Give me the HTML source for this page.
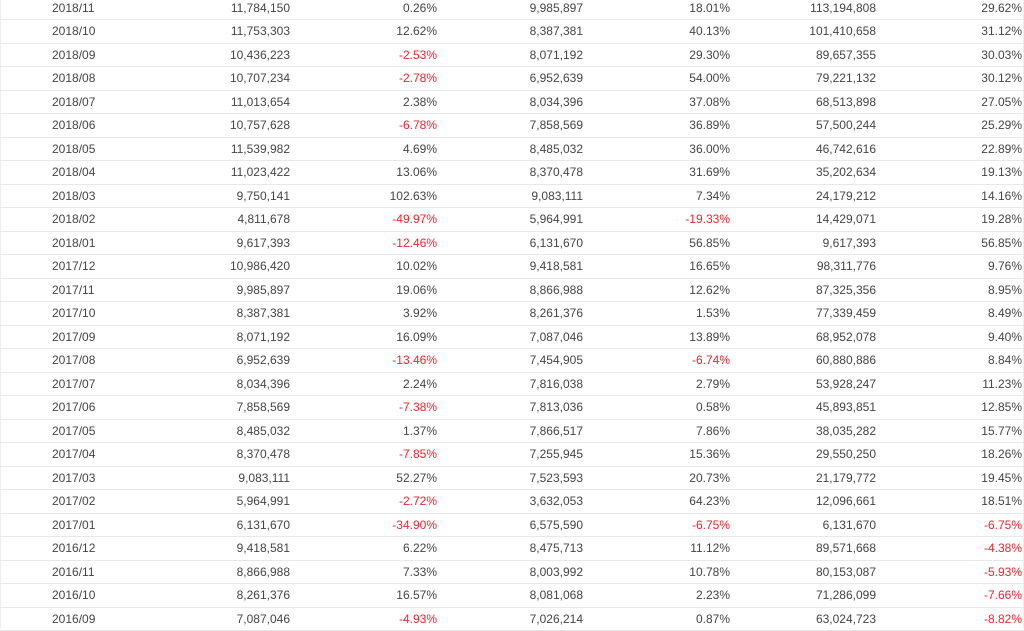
<!DOCTYPE html>
<html><head><meta charset="utf-8"><style>
body{margin:0;width:1024px;height:628px;overflow:hidden;background:#fff;font-family:"Liberation Sans",Arial,sans-serif;font-size:12px;color:#444;position:relative}
.r{position:absolute;left:0;width:1024px;height:23.5px;border-bottom:1px solid #e8e8e8;box-sizing:border-box}
.c{position:absolute;top:0;line-height:22.5px;text-align:right;white-space:nowrap}
.n{color:#f5222d}
.vl{position:absolute;top:0;width:1px;height:628px;background:#eeeeee}
</style></head><body>
<div class="vl" style="left:0"></div>
<div class="vl" style="left:1023px"></div>
<div id="t"></div>
<script>
var d=`2018/11|11,784,150|0.26%|9,985,897|18.01%|113,194,808|29.62%
2018/10|11,753,303|12.62%|8,387,381|40.13%|101,410,658|31.12%
2018/09|10,436,223|-2.53%|8,071,192|29.30%|89,657,355|30.03%
2018/08|10,707,234|-2.78%|6,952,639|54.00%|79,221,132|30.12%
2018/07|11,013,654|2.38%|8,034,396|37.08%|68,513,898|27.05%
2018/06|10,757,628|-6.78%|7,858,569|36.89%|57,500,244|25.29%
2018/05|11,539,982|4.69%|8,485,032|36.00%|46,742,616|22.89%
2018/04|11,023,422|13.06%|8,370,478|31.69%|35,202,634|19.13%
2018/03|9,750,141|102.63%|9,083,111|7.34%|24,179,212|14.16%
2018/02|4,811,678|-49.97%|5,964,991|-19.33%|14,429,071|19.28%
2018/01|9,617,393|-12.46%|6,131,670|56.85%|9,617,393|56.85%
2017/12|10,986,420|10.02%|9,418,581|16.65%|98,311,776|9.76%
2017/11|9,985,897|19.06%|8,866,988|12.62%|87,325,356|8.95%
2017/10|8,387,381|3.92%|8,261,376|1.53%|77,339,459|8.49%
2017/09|8,071,192|16.09%|7,087,046|13.89%|68,952,078|9.40%
2017/08|6,952,639|-13.46%|7,454,905|-6.74%|60,880,886|8.84%
2017/07|8,034,396|2.24%|7,816,038|2.79%|53,928,247|11.23%
2017/06|7,858,569|-7.38%|7,813,036|0.58%|45,893,851|12.85%
2017/05|8,485,032|1.37%|7,866,517|7.86%|38,035,282|15.77%
2017/04|8,370,478|-7.85%|7,255,945|15.36%|29,550,250|18.26%
2017/03|9,083,111|52.27%|7,523,593|20.73%|21,179,772|19.45%
2017/02|5,964,991|-2.72%|3,632,053|64.23%|12,096,661|18.51%
2017/01|6,131,670|-34.90%|6,575,590|-6.75%|6,131,670|-6.75%
2016/12|9,418,581|6.22%|8,475,713|11.12%|89,571,668|-4.38%
2016/11|8,866,988|7.33%|8,003,992|10.78%|80,153,087|-5.93%
2016/10|8,261,376|16.57%|8,081,068|2.23%|71,286,099|-7.66%
2016/09|7,087,046|-4.93%|7,026,214|0.87%|63,024,723|-8.82%`.split("\n");
var rights=[290,437,583,730,876,1022],h="";
d.forEach(function(l,i){var f=l.split("|");
h+='<div class="r" style="top:'+(-3.5+i*23.5)+'px"><div class="c" style="left:52px;text-align:left">'+f[0]+'</div>';
for(var j=1;j<7;j++){var neg=f[j][0]=="-";
h+='<div class="c'+(neg?' n':'')+'" style="right:'+(1024-rights[j-1])+'px">'+f[j]+'</div>';}
h+='</div>';});
document.getElementById("t").innerHTML=h;
</script>
</body></html>
